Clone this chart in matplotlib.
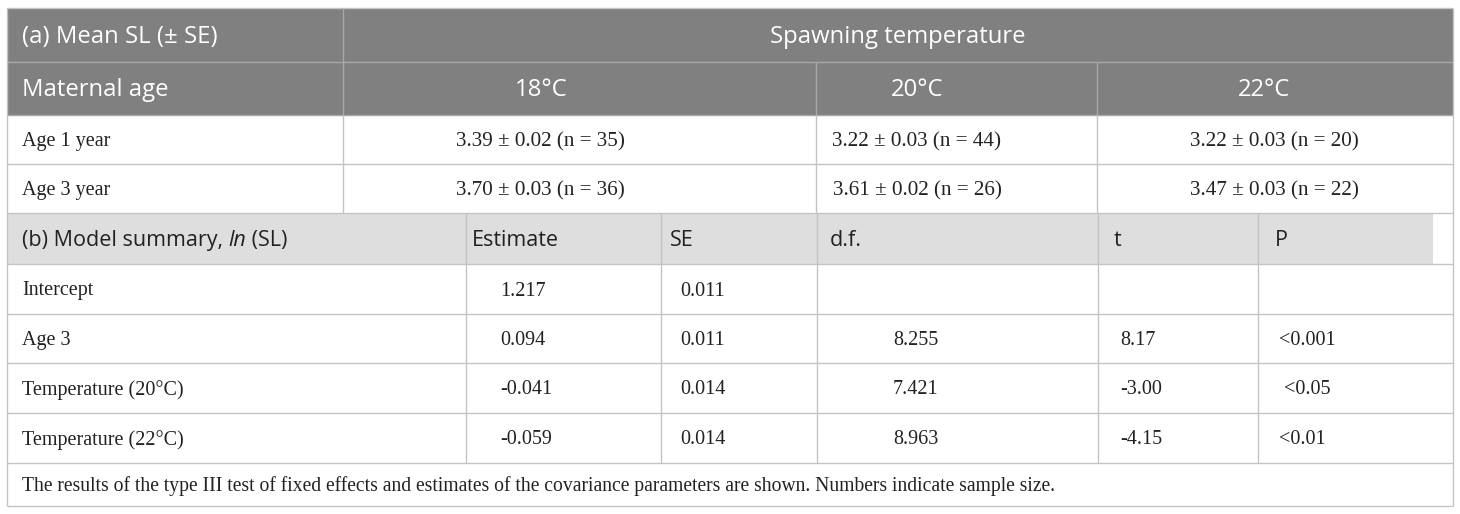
import matplotlib
matplotlib.use('Agg')
import matplotlib.pyplot as plt
from matplotlib.patches import Rectangle

# ---- data ----
temperatures = ['18°C', '20°C', '22°C']
age_groups = ['Age 1 year', 'Age 3 year']
mean_sl = [[3.39, 3.22, 3.22],
           [3.70, 3.61, 3.47]]
se_sl = [[0.02, 0.03, 0.03],
         [0.03, 0.02, 0.03]]
n_fish = [[35, 44, 20],
          [36, 26, 22]]

model_terms = ['Intercept', 'Age 3', 'Temperature (20°C)', 'Temperature (22°C)']
estimates = ['1.217', '0.094', '-0.041', '-0.059']
std_errs = ['0.011', '0.011', '0.014', '0.014']
dfs = ['', '8.255', '7.421', '8.963']
t_vals = ['', '8.17', '-3.00', '-4.15']
p_vals = ['', '<0.001', '<0.05', '<0.01']
model_cols = ['Estimate', 'SE', 'd.f.', 't', 'P']

footnote = ('The results of the type III test of fixed effects and estimates of the '
            'covariance parameters are shown. Numbers indicate sample size.')

# ---- layout (pixels) ----
W, H = 1460, 514
left, right = 7, 1453
row_edges = [8, 62, 115, 164, 213, 264, 314, 363, 413, 463, 506]
a_cols = [left, 343, 816, 1097, right]
b_cols = [left, 466, 661, 817, 1098, 1258, right]
dark = '#808080'
light = '#dedede'
line_c = '#c4c4c4'
sans = ['Open Sans', 'DejaVu Sans']
serif = ['Liberation Serif', 'DejaVu Serif']

fig = plt.figure(figsize=(W / 100, H / 100), dpi=100)
ax = fig.add_axes([0, 0, 1, 1])
ax.set_xlim(0, W)
ax.set_ylim(H, 0)
ax.axis('off')


def mid(i):
    # text centre of row i (a little below the geometric middle)
    return (row_edges[i] + row_edges[i + 1]) / 2 + 2


def hline(y, x0=left, x1=right, c=line_c):
    ax.plot([x0, x1], [y, y], color=c, lw=1, solid_capstyle='butt')


def vline(x, y0, y1, c=line_c):
    ax.plot([x, x], [y0, y1], color=c, lw=1, solid_capstyle='butt')


# header backgrounds
ax.add_patch(Rectangle((left, row_edges[0]), right - left, row_edges[2] - row_edges[0],
                       color=dark, lw=0))
ax.add_patch(Rectangle((left, row_edges[4]), 1433 - left, row_edges[5] - row_edges[4],
                       color=light, lw=0))

# grid lines
for y in row_edges[1:]:
    hline(y, c='#a8a8a8' if y <= 115 else line_c)
hline(row_edges[0])
vline(left, row_edges[0], row_edges[-1])
vline(right, row_edges[0], row_edges[-1])
vline(a_cols[1], row_edges[0], row_edges[2], c='#a8a8a8')
for x in a_cols[2:4]:
    vline(x, row_edges[1], row_edges[2], c='#a8a8a8')
for x in a_cols[1:4]:
    vline(x, row_edges[2], row_edges[4])
for x in b_cols[1:-1]:
    vline(x, row_edges[4], row_edges[9])

# (a) header
hdr = dict(family=sans, fontsize=17.2, color='white', va='center')
ax.text(22, mid(0), '(a) Mean SL (± SE)', ha='left', **hdr)
ax.text(898, mid(0), 'Spawning temperature', ha='center', **hdr)
ax.text(22, mid(1), 'Maternal age', ha='left', **hdr)
for label, xc in zip(temperatures, [541, 917, 1264]):
    ax.text(xc, mid(1), label, ha='center', **hdr)

# (a) body
body = dict(family=serif, fontsize=14.5, color='#222222', va='center')
vals = dict(body, fontsize=15.2)
for r, age in enumerate(age_groups):
    ax.text(22, mid(2 + r), age, ha='left', **body)
    for c, xc in enumerate([540, 917, 1274]):
        txt = f'{mean_sl[r][c]:.2f} ± {se_sl[r][c]:.2f} (n = {n_fish[r][c]})'
        ax.text(xc, mid(2 + r), txt, ha='center', **vals)

# (b) header, with italic "ln"
bh = dict(family=sans, fontsize=15.5, color='#222222', va='center')
t0 = ax.text(22, mid(4), '(b) Model summary, ', ha='left', **bh)
fig.canvas.draw()
bb = t0.get_window_extent().transformed(ax.transData.inverted())
t1 = ax.text(bb.x1, mid(4), 'ln', ha='left', style='italic', **bh)
fig.canvas.draw()
bb1 = t1.get_window_extent().transformed(ax.transData.inverted())
ax.text(bb1.x1, mid(4), ' (SL)', ha='left', **bh)
for label, xl in zip(model_cols, [472, 670, 830, 1114, 1275]):
    ax.text(xl, mid(4), label, ha='left', **bh)

# (b) body
for r, term in enumerate(model_terms):
    y = mid(5 + r)
    ax.text(22, y, term, ha='left', **body)
    ax.text(500, y, estimates[r], ha='left', **body)
    ax.text(680, y, std_errs[r], ha='left', **body)
    ax.text(893, y, dfs[r], ha='left', **body)
    ax.text(1120, y, t_vals[r], ha='left', **body)
    ax.text(1279 if r != 2 else 1284, y, p_vals[r], ha='left', **body)

ax.text(22, mid(9), footnote, ha='left', **dict(body, fontsize=14.1))

fig.savefig('out.png', dpi=100)
